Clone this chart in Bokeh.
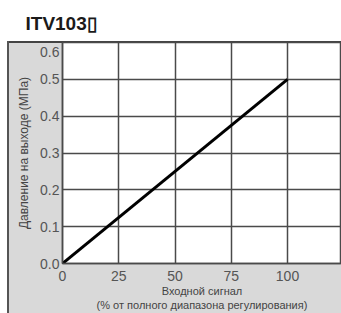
from bokeh.plotting import figure
from bokeh.models import FixedTicker, Range1d, NumeralTickFormatter
from bokeh.embed import file_html
from bokeh.resources import INLINE

title_text = "ITV103\u25af"
signal = [0, 100]
pressure = [0.0, 0.5]
x_ticks = [0, 25, 50, 75, 100]
y_ticks = [0.0, 0.1, 0.2, 0.3, 0.4, 0.5, 0.6]
x_grid = [25, 50, 75, 100]
y_grid = [0.1, 0.2, 0.3, 0.4, 0.5]
x_label = "Входной сигнал\n(% от полного диапазона регулирования)"
y_label = "Давление на выходе (МПа)"

GRAY = "#d9d9d9"
GRID = "#4a4a4a"
FONT = "Liberation Sans"

panel_bg = ("linear-gradient(#555,#555) 7px 41px / 2px 272px no-repeat, "
            "linear-gradient(#444,#444) 7px 41px / 334px 2px no-repeat, "
            f"linear-gradient({GRAY},{GRAY}) 8px 42px / 333px 271px no-repeat, white")

p = figure(width=341, height=313, output_backend="svg", toolbar_location=None,
           x_range=Range1d(0, (341 - 62) / 2.25), y_range=Range1d(0, 0.6),
           min_border_left=62, min_border_right=0, min_border_top=42, min_border_bottom=46,
           styles={"background": panel_bg})
p.border_fill_color = None
p.background_fill_color = "white"
p.outline_line_color = GRID
p.outline_line_width = 1.5

p.title.text = title_text
p.title.align = "left"
p.title.offset = -37
p.title.standoff = 18
p.title.text_font = "Liberation Sans"
p.title.text_font_style = "bold"
p.title.text_font_size = "19px"
p.title.text_color = "#1a1a1a"

p.line(signal, pressure, line_color="black", line_width=3)

for ax in (p.xaxis[0], p.yaxis[0]):
    ax.major_tick_in = 0
    ax.major_tick_out = 0
    ax.minor_tick_in = 0
    ax.minor_tick_out = 0
    ax.axis_line_color = GRID
    ax.axis_line_width = 1.5
    ax.major_label_text_color = "#555"
    ax.major_label_text_font = FONT
    ax.major_label_text_font_size = "14px"
    ax.axis_label_text_font = FONT
    ax.axis_label_text_font_style = "normal"
    ax.axis_label_text_color = "#444"

p.xaxis.ticker = FixedTicker(ticks=x_ticks)
p.xaxis.major_label_standoff = 7
p.xaxis.axis_label = x_label
p.xaxis.axis_label_text_font_size = "11px"
p.xaxis.axis_label_standoff = 1

p.yaxis.ticker = FixedTicker(ticks=y_ticks)
p.yaxis.formatter = NumeralTickFormatter(format="0.0")
p.yaxis.major_label_overrides = {0.6: "\n0.6"}
p.yaxis.major_label_standoff = 3
p.yaxis.axis_label = y_label
p.yaxis.axis_label_text_font_size = "12px"
p.yaxis.axis_label_standoff = 6

p.xgrid.ticker = FixedTicker(ticks=x_grid)
p.ygrid.ticker = FixedTicker(ticks=y_grid)
p.xgrid.grid_line_color = GRID
p.ygrid.grid_line_color = GRID
p.xgrid.grid_line_width = 1.5
p.ygrid.grid_line_width = 1.5

open("out.html", "w").write(file_html(p, INLINE))
